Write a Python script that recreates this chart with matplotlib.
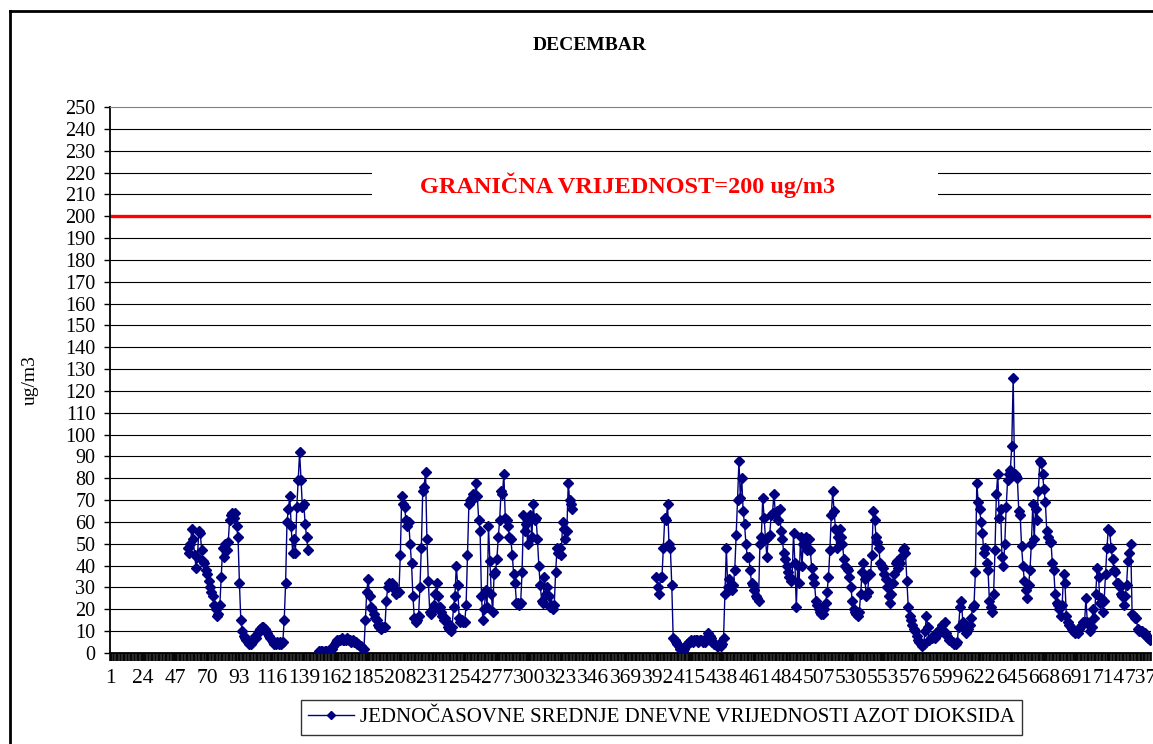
import numpy as np
import matplotlib
matplotlib.use('Agg')
import matplotlib.pyplot as plt
from matplotlib.lines import Line2D
from matplotlib.patches import Rectangle

N = None

# hourly NO2 values (ug/m3) for each day of December, None = no data
dec01 = [N] * 24
dec02 = [N] * 24
dec03 = [N, N, N, N, N, N, N, 48, 46, 50, 57, 52, 45, 39, 44, 56, 55, 47, 42, 41, 38, 36, 33, 30]
dec04 = [28, 26, 22, 20, 17, 18, 22, 35, 48, 44, 50, 47, 51, 61, 63, 64, 62, 64, 58, 53, 32, 15, 10, 8]
dec05 = [7, 6, 5, 4, 4, 5, 6, 8, 7, 9, 10, 11, 12, 12, 11, 10, 9, 8, 7, 6, 5, 4, 4, 5]
dec06 = [4, 5, 4, 5, 15, 32, 60, 66, 72, 58, 46, 52, 46, 67, 79, 92, 79, 67, 68, 59, 53, 47, N, N]
dec07 = [N, N, N, N, N, 1, 1, 1, 0, 1, 1, 1, 0, 1, 2, 3, 4, 5, 6, 6, 6, 7, 6, 6]
dec08 = [6, 7, 6, 6, 5, 6, 5, 5, 4, 4, 3, 3, 2, 2, 15, 28, 34, 26, 21, 20, 18, 16, 15, 13]
dec09 = [12, 11, 12, 12, 12, 24, 30, 32, 31, 32, 31, 29, 27, 28, 28, 45, 72, 68, 67, 61, 58, 60, 50, 41]
dec10 = [26, 16, 14, 15, 17, 30, 48, 74, 76, 83, 52, 33, 19, 18, 20, 22, 27, 32, 26, 21, 19, 17, 15, 16]
dec11 = [14, 12, 11, 10, 12, 21, 26, 40, 31, 16, 14, 15, 14, 14, 22, 45, 68, 70, 71, 73, 71, 78, 72, 61]
dec12 = [56, 26, 15, 20, 29, 21, 58, 42, 27, 19, 36, 37, 43, 53, 61, 74, 73, 82, 62, 61, 58, 53, 52, 45]
dec13 = [36, 32, 23, 23, 22, 23, 37, 63, 56, 59, 50, 61, 63, 53, 68, 61, 62, 52, 40, 31, 24, 23, 35, 27]
dec14 = [30, 26, 21, 22, 20, 22, 37, 48, 46, 48, 45, 60, 57, 52, 56, 78, 70, 68, 66, N, N, N, N, N]
dec15 = [N] * 24
dec16 = [N] * 24
dec17 = [N, N, N, N, N, N, 35, 30, 27, 35, 35, 48, 62, 61, 68, 50, 48, 31, 7, 6, 5, 4, 3, 2]
dec18 = [2, 1, 2, 3, 4, 5, 5, 6, 5, 6, 6, 6, 5, 6, 6, 5, 6, 5, 7, 9, 8, 7, 5, 4]
dec19 = [4, 3, 3, 4, 3, 4, 7, 27, 48, 30, 34, 31, 29, 31, 38, 54, 70, 88, 71, 80, 65, 59, 50, 44]
dec20 = [44, 38, 32, 31, 29, 26, 25, 24, 50, 53, 71, 62, 52, 44, 53, 54, 63, 64, 73, 64, 65, 61, 66, 56]
dec21 = [52, 46, 43, 40, 37, 35, 33, 34, 55, 41, 21, 40, 32, 53, 40, 50, 50, 53, 47, 52, 47, 39, 35, 32]
dec22 = [24, 22, 20, 19, 18, 18, 20, 23, 28, 35, 47, 63, 74, 65, 57, 48, 53, 57, 53, 50, 43, 40, 39, 38]
dec23 = [35, 30, 24, 20, 19, 18, 17, 19, 27, 37, 41, 34, 26, 28, 36, 36, 45, 65, 61, 53, 51, 48, 41, 40]
dec24 = [39, 36, 34, 30, 26, 23, 27, 32, 36, 41, 42, 39, 41, 44, 47, 48, 46, 33, 21, 17, 15, 13, 11, 10]
dec25 = [8, 6, 5, 4, 3, 4, 10, 17, 12, 6, 7, 7, 8, 7, 9, 10, 9, 11, 13, 10, 14, 9, 8, 6]
dec26 = [6, 5, 5, 4, 4, 5, 12, 21, 24, 14, 12, 9, 10, 11, 13, 16, 21, 22, 37, 78, 69, 66, 60, 55]
dec27 = [46, 48, 41, 38, 24, 21, 19, 27, 47, 73, 82, 62, 66, 44, 40, 50, 67, 79, 82, 84, 95, 126, 82, 81]
dec28 = [80, 65, 63, 49, 40, 33, 29, 25, 31, 38, 50, 68, 52, 66, 61, 74, 88, 87, 82, 75, 69, 56, 53, 51]
dec29 = [51, 41, 38, 27, 23, 22, 20, 17, 22, 36, 32, 17, 14, 13, 12, 11, 10, 9, 10, 9, 11, 12, 13, 14]
dec30 = [14, 25, 14, 13, 10, 12, 20, 16, 27, 39, 35, 23, 25, 19, 24, 36, 48, 57, 56, 48, 43, 38, 37, 32]
dec31 = [32, 30, 27, 26, 22, 26, 31, 42, 46, 50, 18, 17, 16, 16, 11, 10, 10, 10, 9, 9, 8, 7, 7, 6]

days = [dec01, dec02, dec03, dec04, dec05, dec06, dec07, dec08, dec09, dec10,
        dec11, dec12, dec13, dec14, dec15, dec16, dec17, dec18, dec19, dec20,
        dec21, dec22, dec23, dec24, dec25, dec26, dec27, dec28, dec29, dec30, dec31]

limit_value = 200
series_name = 'JEDNOČASOVNE SREDNJE DNEVNE VRIJEDNOSTI AZOT DIOKSIDA'
limit_text = 'GRANIČNA VRIJEDNOST=200 ug/m3'
x_labels = list(range(1, 745, 23))


def main():
    values = np.array([np.nan if v is None else v for d in days for v in d], dtype=float)
    hours = np.arange(1, len(values) + 1)

    plt.rcParams['font.family'] = ['Liberation Serif', 'DejaVu Serif']
    W, H = 1153, 744
    fig = plt.figure(figsize=(W / 100, H / 100), dpi=100)
    fig.patch.set_facecolor('white')

    # chart frame (cut off at right and bottom)
    fig.add_artist(Line2D([10 / W, 10 / W], [0, 1 - 11 / H], color='black', lw=2,
                          transform=fig.transFigure))
    fig.add_artist(Line2D([10 / W, 1], [1 - 11 / H, 1 - 11 / H], color='black', lw=2,
                          transform=fig.transFigure))

    ax = fig.add_axes([110 / W, 1 - 653 / H, 1041 / W, 546 / H])
    ax.set_xlim(0.5, len(values) + 0.5)
    ax.set_ylim(0, 250)

    for g in range(10, 250, 10):
        ax.axhline(g, color='black', lw=0.8, zorder=1)

    ax.axhline(limit_value, color='red', lw=2.4, zorder=2)

    # white box behind the limit text
    ax.add_patch(Rectangle((0.2517, 205 / 250), 0.5437, 21 / 250, transform=ax.transAxes,
                           facecolor='white', edgecolor='none', zorder=3))
    ax.text(0.4976, 214, limit_text, transform=ax.get_yaxis_transform(),
            color='red', fontsize=17.5, fontweight='bold', ha='center', va='center', zorder=4)

    line, = ax.plot(hours, values, color='#000080', lw=1.0, marker='D', ms=5,
                    mfc='#000080', mec='#000080', zorder=5, label=series_name)

    ax.set_yticks(range(0, 251, 10))
    ax.tick_params(axis='y', direction='out', length=4.5, width=1, pad=6, labelsize=14.5)
    ax.set_xticks(x_labels)
    ax.set_xticklabels([str(v) for v in x_labels])
    ax.set_xticks(np.arange(0.5, len(values) + 1, 1), minor=True)
    ax.tick_params(axis='x', which='major', direction='out', length=5.5, width=1.2,
                   pad=6, labelsize=15.5)
    ax.tick_params(axis='x', which='minor', direction='out', length=5.5, width=1.2)

    ax.spines['right'].set_visible(False)
    ax.spines['top'].set_color('#808080')
    ax.spines['left'].set_linewidth(1.3)
    ax.spines['bottom'].set_linewidth(1.3)

    fig.text(30 / W, 1 - 380 / H, 'ug/m3', rotation=90, fontsize=14,
             ha='center', va='center')
    fig.text(590 / W, 1 - 45 / H, 'DECEMBAR', fontsize=14, fontweight='bold',
             ha='center', va='center')

    leg = ax.legend(handles=[line], loc='center', bbox_to_anchor=(661.5 / W, 1 - 717.5 / H),
                    bbox_transform=fig.transFigure, fontsize=15, frameon=True,
                    fancybox=False, edgecolor='black', handlelength=2.2,
                    borderpad=0.35, handletextpad=0.3)
    leg.get_frame().set_linewidth(1.0)
    leg.legend_handles[0].set_markersize(4.5)

    fig.savefig('out.png', dpi=100, facecolor='white')


if __name__ == '__main__':
    main()
